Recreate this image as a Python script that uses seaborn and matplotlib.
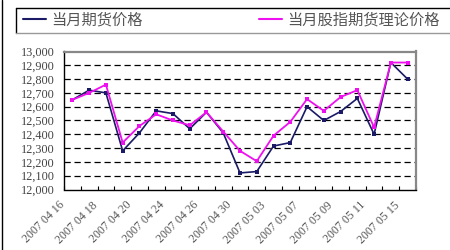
import matplotlib
matplotlib.use('Agg')
import matplotlib.pyplot as plt
import matplotlib.transforms as mtransforms
from matplotlib.lines import Line2D
from matplotlib.ticker import FuncFormatter
import seaborn as sns
import pandas as pd

# ---- data ----
dates = ["2007 04 16", "2007 04 17", "2007 04 18", "2007 04 19", "2007 04 20",
         "2007 04 23", "2007 04 24", "2007 04 25", "2007 04 26", "2007 04 27",
         "2007 04 30", "2007 05 02", "2007 05 03", "2007 05 04", "2007 05 07",
         "2007 05 08", "2007 05 09", "2007 05 10", "2007 05 11", "2007 05 14",
         "2007 05 15"]
futures = [12650, 12720, 12700, 12280, 12410, 12570, 12550, 12440, 12560, 12410,
           12120, 12130, 12315, 12340, 12600, 12500, 12565, 12660, 12400, 12920,
           12800]
theory = [12650, 12700, 12760, 12340, 12460, 12545, 12500, 12465, 12560, 12420,
          12280, 12205, 12390, 12490, 12655, 12570, 12670, 12720, 12450, 12920,
          12920]
series_names = ["当月期货价格", "当月股指期货理论价格"]
y_ticks = [12000, 12100, 12200, 12300, 12400, 12500, 12600, 12700, 12800, 12900, 13000]

sns.set_theme(style='white')
plt.rcParams['font.family'] = ['Noto Sans CJK SC', 'DejaVu Sans']

W, H = 450, 250
fig = plt.figure(figsize=(4.5, 2.5), dpi=100)
ax = fig.add_axes([64 / W, 1 - 189.5 / H, (416 - 64) / W, (189.5 - 51.5) / H])

n = len(dates)
df = pd.DataFrame({'pos': list(range(n)), 'date': dates,
                   'f': futures, 't': theory})

c_dark = '#1a1a66'
c_pink = '#ee10ee'

sns.lineplot(data=df, x='pos', y='f', ax=ax, color=c_dark, lw=1.2,
             marker='s', markersize=2.6, markeredgewidth=0, zorder=3)
sns.lineplot(data=df, x='pos', y='t', ax=ax, color=c_pink, lw=1.3,
             marker='s', markersize=2.4, markeredgewidth=0, zorder=4)

ax.set_xlim(-0.5, n - 0.5)
ax.set_ylim(y_ticks[0], y_ticks[-1])
ax.set_xlabel('')
ax.set_ylabel('')

# gridlines
for v in y_ticks[1:-1]:
    ax.axhline(v, color='black', lw=0.9, ls=(0, (5, 3)), zorder=1)

# y axis
ax.set_yticks(y_ticks)
ax.yaxis.set_major_formatter(FuncFormatter(lambda v, p: f'{int(v):,}'))
ax.tick_params(axis='y', length=0, pad=7, labelsize=8.8, labelcolor='#444')
for lbl in ax.get_yticklabels():
    lbl.set_family('Liberation Serif')

# x axis: ticks at category boundaries, labels every 2 categories
ax.set_xticks([i - 0.5 for i in range(n + 1)])
ax.set_xticklabels([])
ax.tick_params(axis='x', which='major', direction='in', length=3, width=0.8,
               color='black', bottom=True)
ax.set_xticks(list(range(0, n, 2)), minor=True)
ax.set_xticklabels(dates[::2], minor=True)
ax.tick_params(axis='x', which='minor', length=0, pad=10, labelsize=8.6,
               labelcolor='#555', bottom=True)
offset = mtransforms.ScaledTranslation(-10 / 100, 0, fig.dpi_scale_trans)
for lbl in ax.get_xticklabels(minor=True):
    lbl.set_rotation(45)
    lbl.set_ha('right')
    lbl.set_va('center')
    lbl.set_rotation_mode('anchor')
    lbl.set_family('Liberation Serif')
    lbl.set_transform(lbl.get_transform() + offset)

# spines
for s in ['left', 'bottom']:
    ax.spines[s].set_color('black')
    ax.spines[s].set_linewidth(1.0)
for s in ['top', 'right']:
    ax.spines[s].set_color('#888888')
    ax.spines[s].set_linewidth(1.6)
    ax.spines[s].set_visible(True)

# legend
handles = [Line2D([], [], color=c_dark, lw=1.5),
           Line2D([], [], color=c_pink, lw=1.5)]
fig.legend(handles, series_names, loc='center left',
           bbox_to_anchor=(23 / W, 1 - 19.5 / H), ncol=2, frameon=False,
           fontsize=11, handlelength=1.5, handletextpad=0.35,
           columnspacing=7.6, borderpad=0, borderaxespad=0, labelcolor='#555')

# legend box & figure border
fig.add_artist(Line2D([16 / W, 1.0], [1 - 7.5 / H, 1 - 7.5 / H],
                      transform=fig.transFigure, color='black', lw=1))
fig.add_artist(Line2D([16 / W, 16 / W], [1 - 7.5 / H, 1 - 32.5 / H],
                      transform=fig.transFigure, color='black', lw=1))
fig.add_artist(Line2D([16 / W, 1.0], [1 - 32.5 / H, 1 - 32.5 / H],
                      transform=fig.transFigure, color='#999999', lw=1))
fig.add_artist(Line2D([2 / W, 2 / W], [0, 1],
                      transform=fig.transFigure, color='black', lw=1))

fig.savefig('out.png', dpi=100)
